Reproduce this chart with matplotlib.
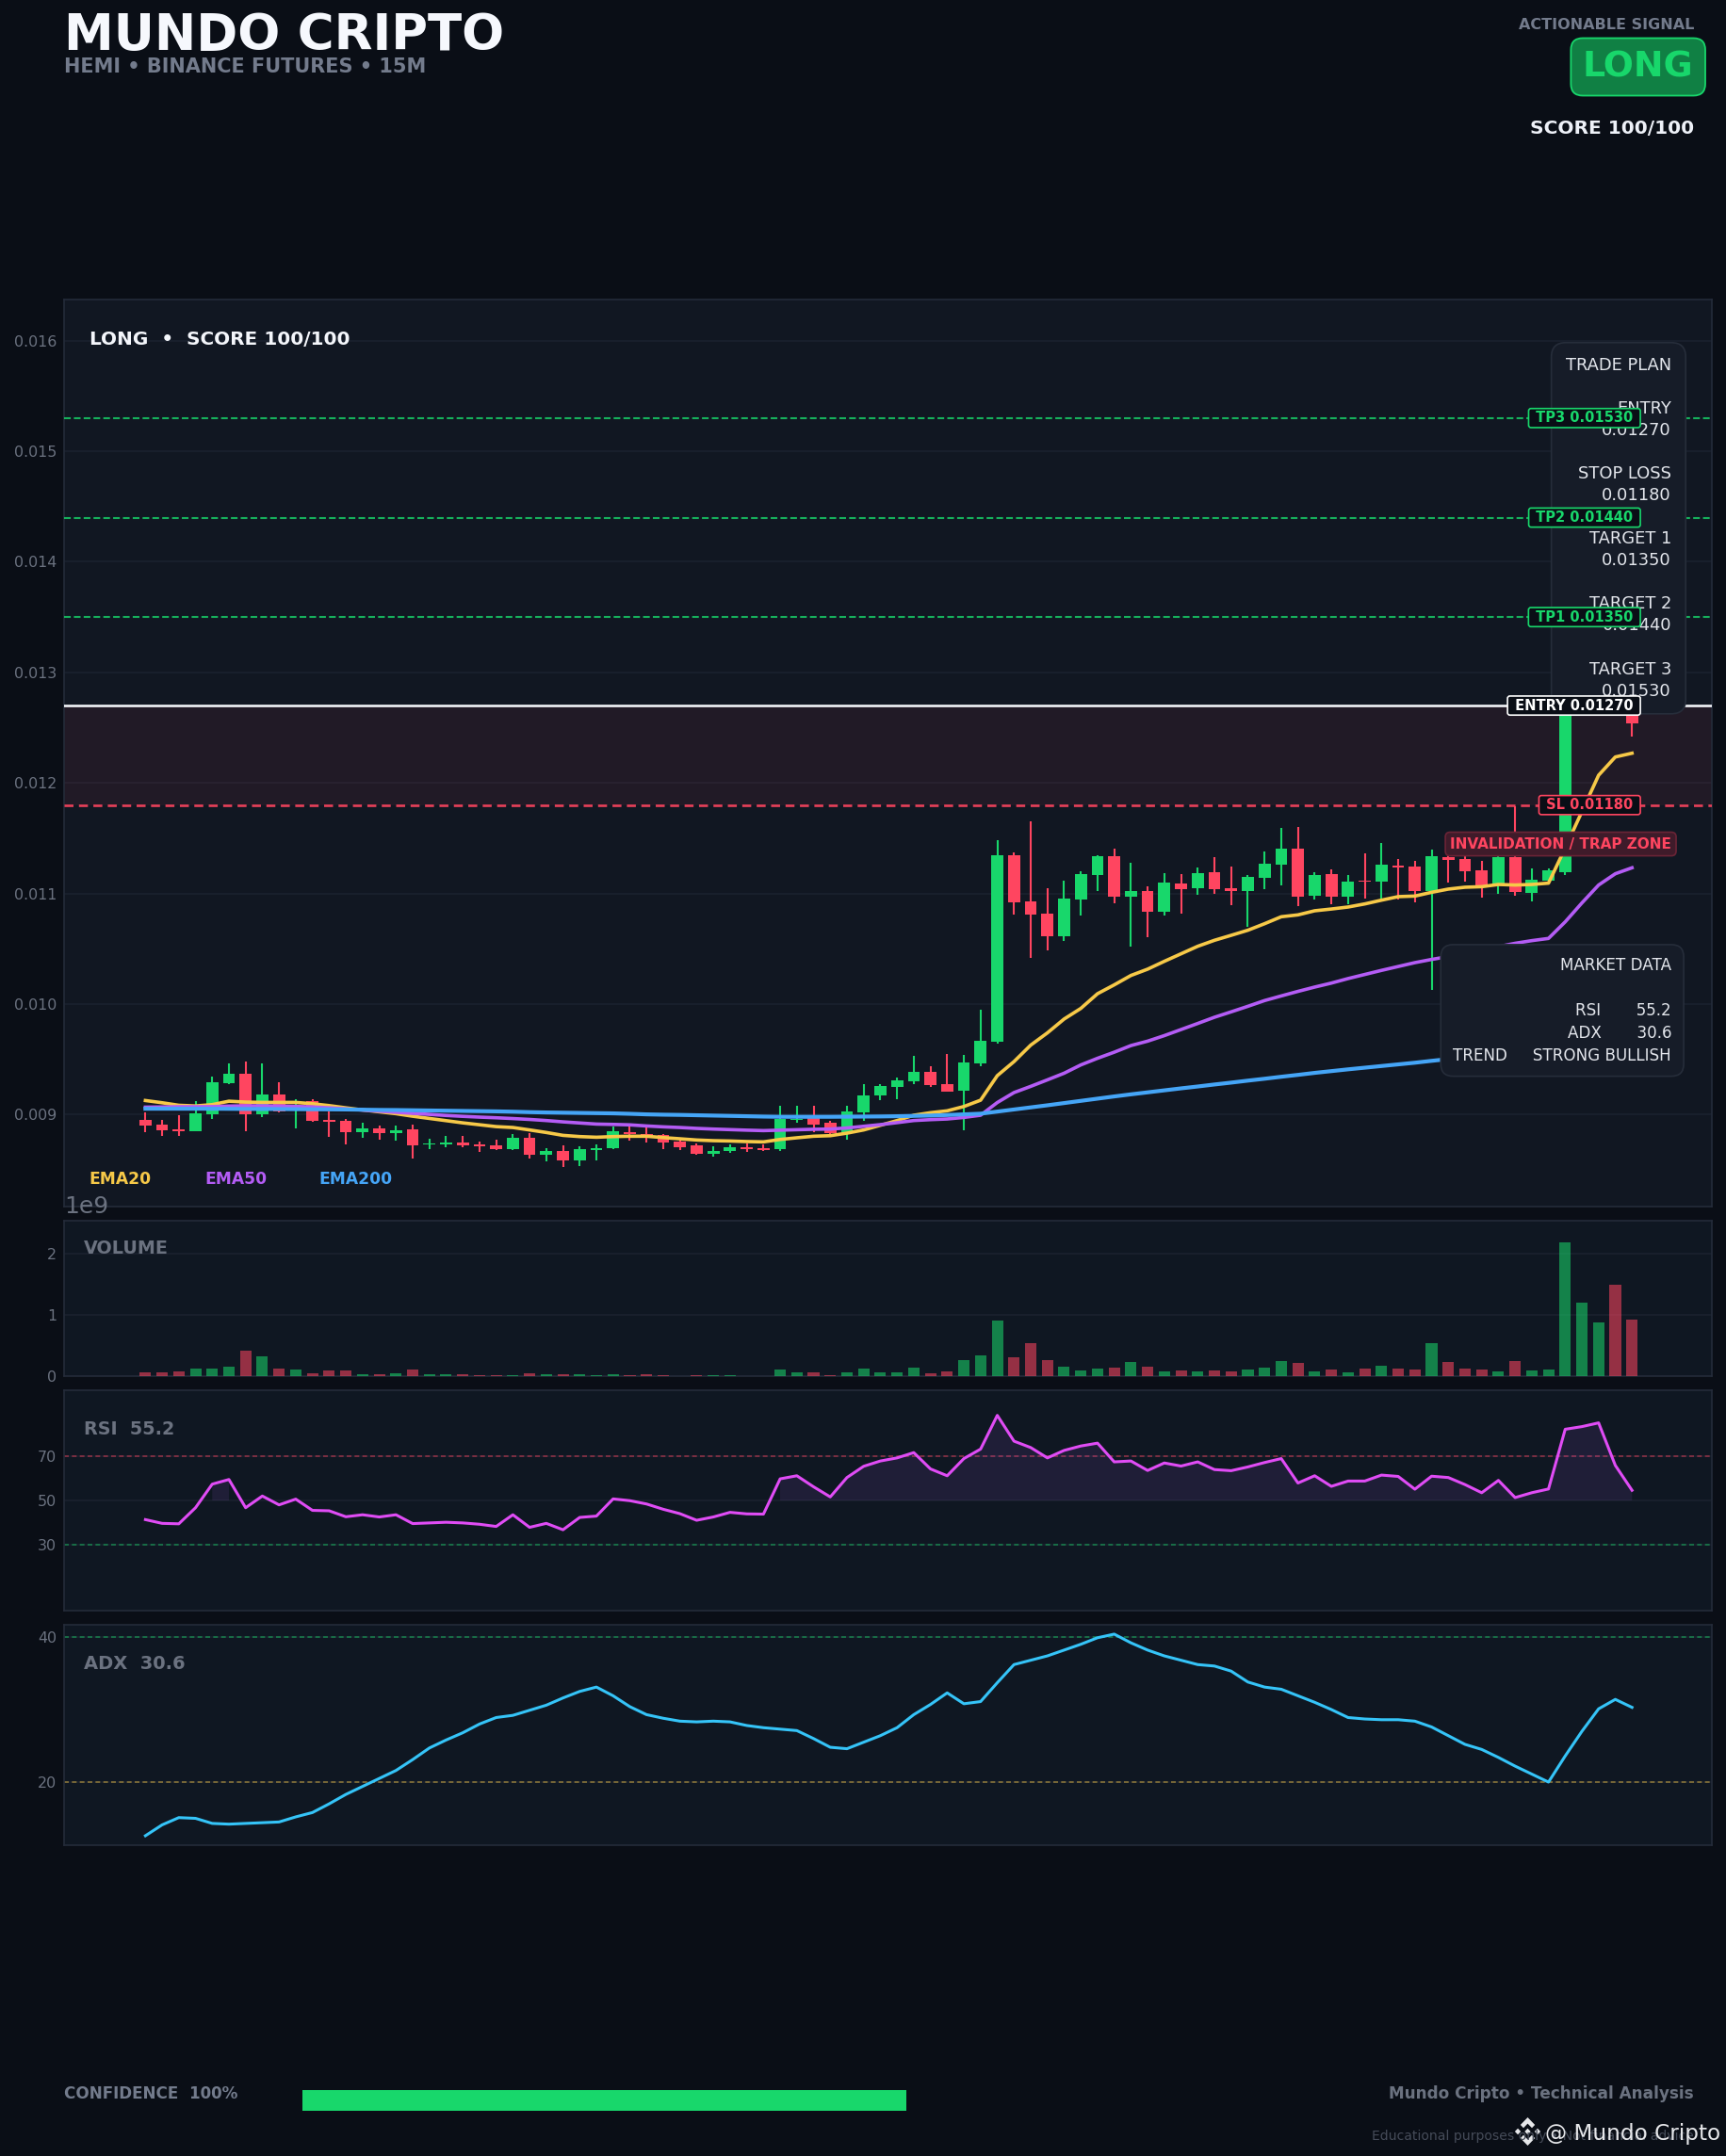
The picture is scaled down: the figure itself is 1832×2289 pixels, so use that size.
import numpy as np
import matplotlib
matplotlib.use("Agg")
import matplotlib.pyplot as plt
from matplotlib.transforms import blended_transform_factory

# candles, prices in millionths
opens = [8952, 8909, 8867, 8850, 9003, 9284, 9369, 9003, 9182, 9062,
         9122, 8952, 8943, 8841, 8875, 8832, 8867, 8730, 8730, 8747,
         8730, 8722, 8691, 8791, 8640, 8674, 8589, 8683, 8700, 8845,
         8827, 8819, 8759, 8725, 8649, 8674, 8708, 8700, 8691, 8955,
         8975, 8930, 8845, 9023, 9177, 9253, 9304, 9390, 9279, 9219,
         9466, 9660, 11349, 10932, 10821, 10617, 10949, 11170, 11341, 10974,
         11026, 10838, 11094, 11051, 11196, 11051, 11026, 11145, 11264, 11409,
         10983, 11179, 10974, 11114, 11105, 11250, 11241, 11020, 11326, 11309,
         11207, 11079, 11326, 11003, 11114, 11190, 13050, 13400, 13700, 13100]
closes = [8901, 8858, 8850, 9011, 9292, 9369, 9003, 9182, 9028, 9079,
          8943, 8935, 8841, 8875, 8832, 8858, 8722, 8742, 8747, 8722,
          8713, 8688, 8791, 8640, 8674, 8589, 8691, 8700, 8853, 8827,
          8810, 8751, 8708, 8649, 8674, 8708, 8691, 8683, 8964, 8964,
          8913, 8836, 9032, 9177, 9262, 9313, 9390, 9270, 9211, 9475,
          9671, 11349, 10923, 10813, 10617, 10957, 11179, 11341, 10974, 11026,
          10838, 11102, 11043, 11187, 11043, 11026, 11153, 11273, 11409, 10974,
          11170, 10974, 11111, 11105, 11258, 11233, 11020, 11335, 11301, 11199,
          11071, 11326, 11011, 11122, 11207, 13050, 13400, 13700, 13100, 12536]
highs = [9020, 8949, 8994, 9122, 9344, 9463, 9480, 9463, 9292, 9139,
         9139, 9028, 8960, 8926, 8901, 8901, 8909, 8781, 8807, 8807,
         8756, 8773, 8827, 8833, 8700, 8725, 8717, 8734, 8896, 8896,
         8887, 8827, 8776, 8742, 8717, 8734, 8742, 8734, 9083, 9083,
         9083, 8947, 9083, 9279, 9279, 9339, 9534, 9441, 9551, 9543,
         9952, 11485, 11375, 11656, 11051, 11119, 11204, 11349, 11409, 11281,
         11068, 11187, 11179, 11238, 11332, 11247, 11170, 11383, 11596, 11605,
         11196, 11221, 11170, 11361, 11454, 11309, 11292, 11395, 11369, 11369,
         11292, 11383, 11786, 11224, 11224, 13250, 13520, 13900, 13780, 13200]
lows = [8841, 8807, 8807, 8850, 8960, 9275, 8850, 8977, 9020, 8875,
        8935, 8798, 8730, 8790, 8773, 8764, 8603, 8688, 8705, 8705,
        8662, 8679, 8683, 8606, 8580, 8529, 8538, 8589, 8691, 8768,
        8751, 8691, 8683, 8640, 8623, 8657, 8666, 8674, 8674, 8930,
        8845, 8819, 8776, 8947, 9134, 9143, 9279, 9253, 9211, 8862,
        9441, 9640, 10813, 10421, 10489, 10574, 10804, 11026, 10915, 10523,
        10608, 10804, 10821, 10991, 11000, 10898, 10702, 11043, 11077, 10889,
        10949, 10906, 10906, 10952, 10952, 10943, 10918, 10126, 11097, 11105,
        10960, 10994, 10977, 10926, 11099, 11165, 12950, 13300, 13000, 12417]

ema20 = [9128, 9108, 9085, 9079, 9091, 9122, 9114, 9111, 9111, 9111,
         9099, 9082, 9062, 9043, 9026, 9009, 8986, 8966, 8946, 8926,
         8909, 8892, 8884, 8862, 8839, 8813, 8802, 8796, 8802, 8805,
         8805, 8793, 8782, 8771, 8765, 8762, 8757, 8754, 8776, 8791,
         8805, 8810, 8833, 8862, 8904, 8947, 8995, 9018, 9035, 9074,
         9131, 9353, 9480, 9629, 9740, 9865, 9961, 10094, 10174, 10259,
         10316, 10387, 10455, 10523, 10577, 10622, 10668, 10727, 10790, 10807,
         10844, 10860, 10878, 10906, 10940, 10972, 10977, 11011, 11040, 11057,
         11062, 11082, 11077, 11082, 11094, 11412, 11741, 12070, 12235, 12269]
ema50 = [9068, 9070, 9072, 9072, 9073, 9078, 9080, 9080, 9078, 9075,
         9070, 9062, 9052, 9042, 9032, 9022, 9012, 9003, 8993, 8985,
         8978, 8972, 8965, 8957, 8947, 8935, 8925, 8915, 8912, 8908,
         8898, 8890, 8884, 8876, 8870, 8865, 8860, 8856, 8860, 8864,
         8868, 8870, 8880, 8895, 8910, 8928, 8947, 8955, 8961, 8975,
         8995, 9110, 9200, 9256, 9315, 9375, 9450, 9510, 9565, 9625,
         9665, 9715, 9770, 9825, 9881, 9930, 9980, 10032, 10074, 10115,
         10154, 10190, 10231, 10268, 10305, 10340, 10375, 10404, 10430, 10460,
         10490, 10520, 10550, 10574, 10594, 10744, 10915, 11077, 11179, 11233]
ema200 = [9054, 9054, 9054, 9054, 9054, 9053, 9052, 9052, 9051, 9050,
          9049, 9048, 9047, 9045, 9043, 9042, 9040, 9038, 9036, 9034,
          9032, 9030, 9027, 9023, 9020, 9018, 9016, 9014, 9012, 9008,
          9003, 9000, 8998, 8995, 8992, 8989, 8986, 8983, 8981, 8981,
          8981, 8981, 8982, 8983, 8984, 8986, 8989, 8992, 8997, 9003,
          9009, 9028, 9047, 9066, 9085, 9105, 9125, 9145, 9165, 9184,
          9202, 9220, 9238, 9255, 9273, 9290, 9308, 9325, 9343, 9360,
          9378, 9394, 9410, 9425, 9440, 9455, 9470, 9487, 9503, 9520,
          9540, 9560, 9580, 9600, 9620, 9650, 9690, 9730, 9765, 9800]

# volume in billions
volume = [.067, .067, .082, .128, .128, .159, .42, .328, .128, .113,
          .051, .097, .097, .036, .036, .051, .113, .036, .036, .036,
          .02, .02, .02, .051, .036, .036, .036, .02, .036, .02,
          .036, .02, .005, .02, .02, .018, .005, .005, .113, .067,
          .067, .02, .067, .128, .067, .067, .144, .051, .082, .267,
          .344, .913, .313, .544, .267, .159, .097, .128, .144, .236,
          .159, .082, .097, .082, .097, .082, .113, .144, .251, .221,
          .082, .113, .067, .128, .174, .128, .113, .544, .236, .128,
          .113, .082, .251, .097, .113, 2.19, 1.205, .882, 1.497, .928]

rsi = [41.3, 39.6, 39.4, 46.7, 57.4, 59.5, 46.7, 52.0, 48.0, 50.6,
       45.5, 45.3, 42.6, 43.5, 42.5, 43.5, 39.5, 39.8, 40.1, 39.8,
       39.2, 38.2, 43.5, 37.8, 39.6, 36.7, 42.3, 42.9, 50.7, 49.9,
       48.4, 46.0, 44.0, 41.0, 42.5, 44.6, 43.9, 43.8, 59.8, 61.2,
       56.2, 51.6, 60.4, 65.5, 67.9, 69.3, 71.7, 64.3, 61.2, 69.0,
       73.3, 88.6, 76.9, 74.0, 69.3, 72.7, 74.7, 76.0, 67.5, 67.9,
       63.6, 67.0, 65.6, 67.5, 64.0, 63.5, 65.2, 67.2, 69.0, 57.9,
       61.2, 56.4, 58.8, 58.8, 61.5, 60.9, 55.1, 61.0, 60.4, 57.2,
       53.5, 59.1, 51.3, 53.5, 55.2, 82.3, 83.5, 85.2, 65.9, 54.6]
adx = [12.6, 14.1, 15.1, 15.0, 14.3, 14.2, 14.3, 14.4, 14.5, 15.2,
       15.8, 17.0, 18.3, 19.4, 20.5, 21.6, 23.1, 24.7, 25.8, 26.8,
       28.0, 28.9, 29.2, 29.9, 30.6, 31.6, 32.5, 33.1, 31.9, 30.4,
       29.3, 28.8, 28.4, 28.3, 28.4, 28.3, 27.8, 27.5, 27.3, 27.1,
       26.0, 24.8, 24.6, 25.5, 26.4, 27.5, 29.3, 30.7, 32.3, 30.8,
       31.1, 33.7, 36.2, 36.8, 37.4, 38.2, 39.0, 39.9, 40.4, 39.2,
       38.2, 37.4, 36.8, 36.2, 36.0, 35.3, 33.8, 33.1, 32.8, 31.9,
       31.0, 30.0, 28.9, 28.7, 28.6, 28.6, 28.4, 27.6, 26.4, 25.2,
       24.5, 23.4, 22.2, 21.1, 20.0, 23.6, 27.0, 30.1, 31.4, 30.3]

tp_levels = [0.0135, 0.0144, 0.0153]
entry = 0.0127
stop = 0.0118
confidence = 100
price_ticks = [0.009, 0.010, 0.011, 0.012, 0.013, 0.014, 0.015, 0.016]

BG = "#0a0e16"
PANEL = "#111722"
SUB = "#0f1722"
EDGE = "#242b39"
GRID = "#1b2230"
GRAY = "#6b7280"
GREEN = "#18d76b"
RED = "#ff4560"
YELLOW = "#f7c948"
PURPLE = "#b45cf5"
BLUE = "#45a5f7"

W, H = 1832, 2289
fig = plt.figure(figsize=(W / 100, H / 100), dpi=100, facecolor=BG)


def box(x0, y0, x1, y1):
    return [x0 / W, 1 - y1 / H, (x1 - x0) / W, (y1 - y0) / H]


def fx(x):
    return x / W


def fy(y):
    return 1 - y / H


def style(ax, face):
    ax.set_facecolor(face)
    for s in ax.spines.values():
        s.set_color(EDGE)
        s.set_linewidth(1.2)
    ax.tick_params(axis="y", length=0, labelsize=11.4, labelcolor=GRAY, pad=5.8)
    ax.set_xticks([])
    ax.set_xlim(-4.87, 93.78)
    ax.set_axisbelow(True)
    ax.grid(axis="y", color=GRID, linewidth=1.1)


x = np.arange(len(closes))
o = np.array(opens) * 1e-6
c = np.array(closes) * 1e-6
hi = np.array(highs) * 1e-6
lo = np.array(lows) * 1e-6
up = c >= o
candle_colors = [GREEN if u else RED for u in up]

# main price panel
ax = fig.add_axes(box(68, 318, 1817, 1281))
style(ax, PANEL)
ax.set_ylim(0.008169, 0.016372)
ax.set_yticks(price_ticks)
ax.set_yticklabels([f"{t:.3f}" for t in price_ticks])

ax.axhspan(stop, entry, color=RED, alpha=0.07, linewidth=0, zorder=1)
ax.vlines(x, lo, hi, colors=candle_colors, linewidth=1.5, zorder=2)
ax.bar(x, np.abs(c - o), bottom=np.minimum(o, c), width=0.72, color=candle_colors, linewidth=0, zorder=3)
ax.plot(x, np.array(ema20) * 1e-6, color=YELLOW, linewidth=2.6, zorder=4)
ax.plot(x, np.array(ema50) * 1e-6, color=PURPLE, linewidth=2.6, zorder=4)
ax.plot(x, np.array(ema200) * 1e-6, color=BLUE, linewidth=3.0, zorder=4)

for lvl in tp_levels:
    ax.axhline(lvl, color=GREEN, linewidth=1.5, linestyle=(0, (3.4, 1.6)), alpha=0.8, zorder=5)
ax.axhline(entry, color="#f2f4f8", linewidth=1.9, zorder=5)
ax.axhline(stop, color=RED, linewidth=1.9, linestyle=(0, (3.6, 2.2)), alpha=0.9, zorder=5)

ax.text(fx(95), fy(366), "LONG  •  SCORE 100/100", transform=fig.transFigure, color="#f4f6fb",
        fontsize=14.4, fontweight="bold", va="baseline", zorder=6)

trade_plan = ("TRADE PLAN\n\nENTRY\n0.01270\n\nSTOP LOSS\n0.01180\n\nTARGET 1\n0.01350\n\n"
              "TARGET 2\n0.01440\n\nTARGET 3\n0.01530")
ax.text(fx(1774), fy(379), trade_plan, transform=fig.transFigure, color="#e3e6ec", fontsize=12.9,
        ha="right", va="top", multialignment="right", linespacing=1.36, zorder=6,
        bbox=dict(boxstyle="round,pad=0.85", facecolor="#161c28", edgecolor="#262d3a", linewidth=1.2))
market = "MARKET DATA\n\nRSI       55.2\nADX       30.6\nTREND     STRONG BULLISH"
ax.text(fx(1774), fy(1016), market, transform=fig.transFigure, color="#e3e6ec", fontsize=12.1,
        ha="right", va="top", multialignment="right", linespacing=1.42, zorder=6,
        bbox=dict(boxstyle="round,pad=0.78", facecolor="#161c28", edgecolor="#262d3a", linewidth=1.2))


def level_label(y, s, col):
    ax.text(89.35, y, f" {s} ", color=col, fontsize=10.5, fontweight="bold", ha="right", va="center",
            zorder=8, bbox=dict(boxstyle="round,pad=0.18", facecolor=BG, edgecolor=col, linewidth=1.2))


for lvl, name in zip(tp_levels, ["TP1", "TP2", "TP3"]):
    level_label(lvl, f"{name} {lvl:.5f}", GREEN)
level_label(entry, f"ENTRY {entry:.5f}", "#ffffff")
level_label(stop, f"SL {stop:.5f}", RED)
ax.text(fx(1774), 0.011448, "INVALIDATION / TRAP ZONE", color=RED, fontsize=11, fontweight="bold",
        ha="right", va="center", zorder=7, transform=blended_transform_factory(fig.transFigure, ax.transData),
        bbox=dict(boxstyle="round,pad=0.33", facecolor="#3f1b2a", edgecolor="#6a2436", linewidth=1.2))

for px, name, col in zip([94, 217, 338], ["EMA20", "EMA50", "EMA200"], [YELLOW, PURPLE, BLUE]):
    ax.text(fx(px), fy(1257), name, transform=fig.transFigure, color=col, fontsize=12.3,
            fontweight="bold", va="baseline", zorder=6)

# volume
ax_vol = fig.add_axes(box(68, 1296, 1817, 1461))
style(ax_vol, SUB)
ax_vol.bar(x, np.array(volume) * 1e9, width=0.68, color=candle_colors, alpha=0.56, linewidth=0, zorder=3)
ax_vol.set_ylim(0, 2.54e9)
ax_vol.set_yticks([0, 1e9, 2e9])
ax_vol.yaxis.OFFSETTEXTPAD = 6
ax_vol.yaxis.get_offset_text().set_fontsize(18)
ax_vol.yaxis.get_offset_text().set_color(GRAY)
ax_vol.text(fx(89), fy(1331), "VOLUME", transform=fig.transFigure, color=GRAY, fontsize=13.8,
            fontweight="bold", va="baseline", zorder=6)

# rsi
ax_rsi = fig.add_axes(box(68, 1476, 1817, 1710))
style(ax_rsi, SUB)
rsi_arr = np.array(rsi)
ax_rsi.set_ylim(0, 100)
ax_rsi.set_yticks([30, 50, 70])
ax_rsi.axhline(70, color=RED, linewidth=1.2, linestyle=(0, (3, 2)), alpha=0.5, zorder=2)
ax_rsi.axhline(30, color=GREEN, linewidth=1.2, linestyle=(0, (3, 2)), alpha=0.5, zorder=2)
ax_rsi.fill_between(x, 50, rsi_arr, where=rsi_arr > 50, color=PURPLE, alpha=0.1, linewidth=0, zorder=2)
ax_rsi.plot(x, rsi_arr, color="#e04cf5", linewidth=2.2, zorder=4)
ax_rsi.text(fx(89), fy(1523), "RSI  55.2", transform=fig.transFigure, color=GRAY, fontsize=13.8,
            fontweight="bold", va="baseline", zorder=6)

# adx
ax_adx = fig.add_axes(box(68, 1725, 1817, 1959))
style(ax_adx, SUB)
ax_adx.set_ylim(11.3, 41.69)
ax_adx.set_yticks([20, 40])
ax_adx.axhline(40, color=GREEN, linewidth=1.2, linestyle=(0, (3, 2)), alpha=0.5, zorder=2)
ax_adx.axhline(20, color=YELLOW, linewidth=1.2, linestyle=(0, (3, 2)), alpha=0.5, zorder=2)
ax_adx.plot(x, adx, color="#35c4f8", linewidth=2.2, zorder=4)
ax_adx.text(fx(89), fy(1772), "ADX  30.6", transform=fig.transFigure, color=GRAY, fontsize=14,
            fontweight="bold", va="baseline", zorder=6)

# header
fig.text(fx(68), fy(53), "MUNDO CRIPTO", color="#f6f8fd", fontsize=38.2, fontweight="bold", va="baseline")
fig.text(fx(68), fy(77), "HEMI • BINANCE FUTURES • 15M", color="#737b8c", fontsize=15,
         fontweight="bold", va="baseline")
fig.text(fx(1798), fy(31), "ACTIONABLE SIGNAL", color="#737b8c", fontsize=11.5, fontweight="bold",
         ha="right", va="baseline")
fig.text(fx(1797.5), fy(81), "LONG", color=GREEN, fontsize=27.3, fontweight="bold", ha="right", va="baseline",
         bbox=dict(boxstyle="round,pad=0.33", facecolor="#108044", edgecolor=GREEN, linewidth=1.3))
fig.text(fx(1798), fy(142), "SCORE 100/100", color="#eef1f8", fontsize=14.5, fontweight="bold",
         ha="right", va="baseline")

# footer
fig.text(fx(68), fy(2228), "CONFIDENCE  100%", color="#737b8c", fontsize=12.1, fontweight="bold", va="baseline")
ax_conf = fig.add_axes(box(321, 2219, 962, 2241))
ax_conf.axis("off")
ax_conf.set_xlim(0, 100)
ax_conf.set_ylim(-0.5, 0.5)
ax_conf.barh([0], [confidence], height=1, color=GREEN, linewidth=0)
fig.text(fx(1798), fy(2228), "Mundo Cripto • Technical Analysis", color="#6b7280", fontsize=12.2,
         fontweight="bold", ha="right", va="baseline")
fig.text(fx(1798), fy(2272), "Educational purposes only • Not financial advice", color="#454b58",
         fontsize=10.1, ha="right", va="baseline")

# watermark
fig.text(fx(1640), fy(2272), "@ Mundo Cripto", color="#e6e7ea", fontsize=16.7, va="baseline")
ax_logo = fig.add_axes(box(1607, 2248, 1636, 2278))
ax_logo.axis("off")
ax_logo.set_xlim(-1, 1)
ax_logo.set_ylim(-1, 1)
for cx in [-0.72, 0, 0.72]:
    ax_logo.fill([cx - 0.22, cx, cx + 0.22, cx], [0, 0.22, 0, -0.22], color="#e6e7ea", linewidth=0)
for sgn in [1, -1]:
    ax_logo.fill([0, 0.53, 0.31, 0, -0.31, -0.53],
                 [sgn * v for v in [1, 0.47, 0.25, 0.56, 0.25, 0.47]], color="#e6e7ea", linewidth=0)

fig.savefig("out.png", dpi=100, facecolor=BG)
